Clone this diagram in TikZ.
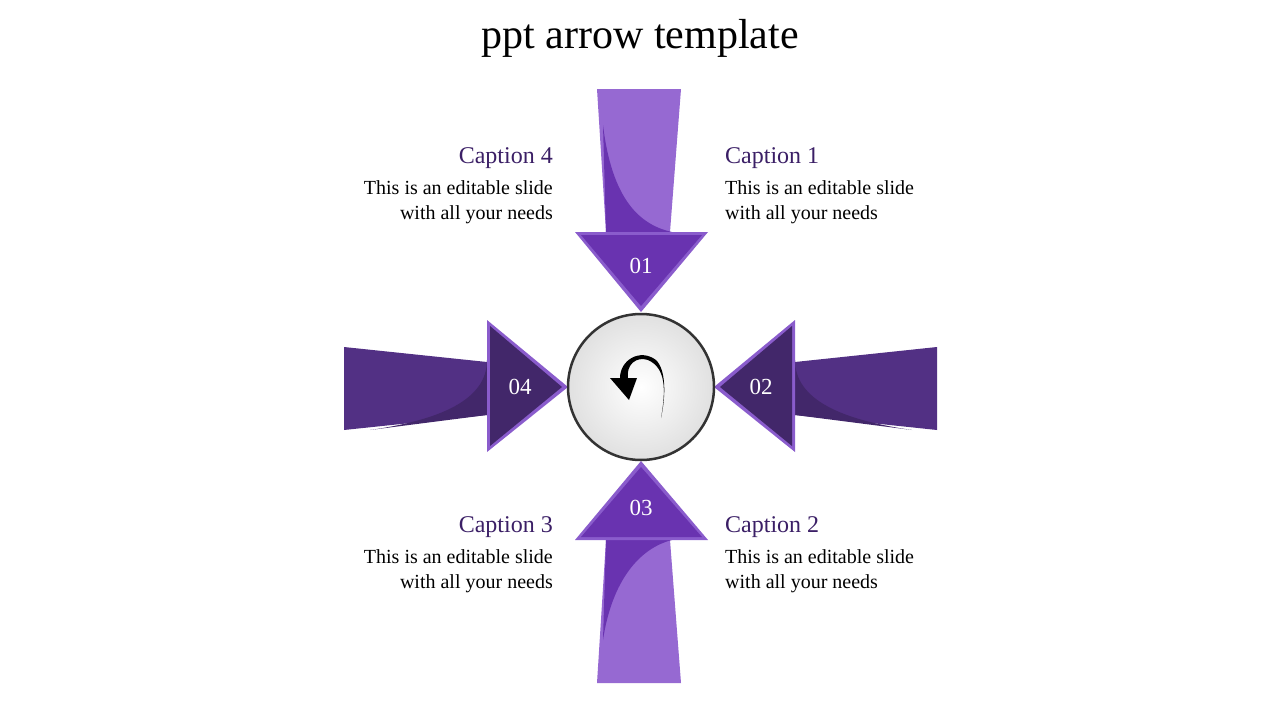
\documentclass[tikz,border=0pt]{standalone}
\usepackage{fontspec}
\setmainfont{Liberation Serif}
\usetikzlibrary{arrows.meta}
\definecolor{lp}{HTML}{9669D2}
\definecolor{dp}{HTML}{6933B0}
\definecolor{ep}{HTML}{8A5CCC}
\definecolor{sp}{HTML}{523084}
\definecolor{hp}{HTML}{42276A}
\definecolor{cap}{HTML}{3B1F66}
\tikzset{capt/.style={text=cap,font=\fontsize{24}{28}\selectfont,inner sep=0},
 body/.style={font=\fontsize{20}{25}\selectfont,inner sep=0,align=left},
 num/.style={text=white,font=\fontsize{23}{26}\selectfont}}
\begin{document}
\begin{tikzpicture}[x=1pt,y=-1pt]
\useasboundingbox (0,0) rectangle (1280,720);
\node[font=\fontsize{42}{46}\selectfont] (title) at (640,38) {ppt arrow template};
% top arrow
\fill[lp] (597,89)--(681,89)--(670,232)--(606,232)--cycle;
\fill[dp] (603,125) .. controls (612,200) and (640,225) .. (672,232) -- (606,232) -- cycle;
\fill[ep] (575,232)--(708,232)--(641,312)--cycle;
\fill[dp] (581,235)--(702,235)--(641,306)--cycle;
% bottom arrow
\fill[lp] (597,683)--(681,683)--(670,540)--(606,540)--cycle;
\fill[dp] (603,640) .. controls (612,580) and (640,548) .. (672,540) -- (606,540) -- cycle;
\fill[ep] (575,540)--(708,540)--(641,461)--cycle;
\fill[dp] (581,537)--(702,537)--(641,467)--cycle;
% left arrow
\fill[sp] (344,347)--(487,362)--(487,415)--(344,430)--cycle;
\fill[hp] (370,430) .. controls (440,420) and (487,400) .. (487,360) -- (487,415) -- cycle;
\fill[ep] (487,320)--(568,387)--(487,452)--cycle;
\fill[hp] (490,326)--(562,387)--(490,446)--cycle;
% right arrow
\fill[sp] (937,347)--(795,362)--(795,415)--(937,430)--cycle;
\fill[hp] (912,430) .. controls (842,420) and (795,400) .. (795,360) -- (795,415) -- cycle;
\fill[ep] (795,320)--(714,387)--(795,452)--cycle;
\fill[hp] (792,326)--(720,387)--(792,446)--cycle;
% circle
\node[circle,minimum size=146,inner sep=0,draw=black!80,line width=2.5,inner color=white,outer color=black!12] (c) at (641,387) {};
\fill (661,418) .. controls (666,390) and (666,368) .. (648,360) .. controls (636,356) and (626,365) .. (628,378) -- (637,378) -- (629,400) -- (610,378) -- (620,378) .. controls (620,360) and (640,348) .. (656,360) .. controls (666,370) and (666,395) .. cycle;
\node[num] (n1) at (641,266) {01};
\node[num] (n2) at (761,387) {02};
\node[num] (n3) at (641,508) {03};
\node[num] (n4) at (520,387) {04};
% captions
\node[capt,anchor=west] (c1) at (725,158) {Caption 1};
\node[body,anchor=north west] (b1) at (725,180) {This is an editable slide\\with all your needs};
\node[capt,anchor=west] (c2) at (725,527) {Caption 2};
\node[body,anchor=north west] (b2) at (725,549) {This is an editable slide\\with all your needs};
\node[capt,anchor=east] (c4) at (553,158) {Caption 4};
\node[body,anchor=north east,align=right] (b4) at (553,180) {This is an editable slide\\with all your needs};
\node[capt,anchor=east] (c3) at (553,527) {Caption 3};
\node[body,anchor=north east,align=right] (b3) at (553,549) {This is an editable slide\\with all your needs};
\end{tikzpicture}
\end{document}
